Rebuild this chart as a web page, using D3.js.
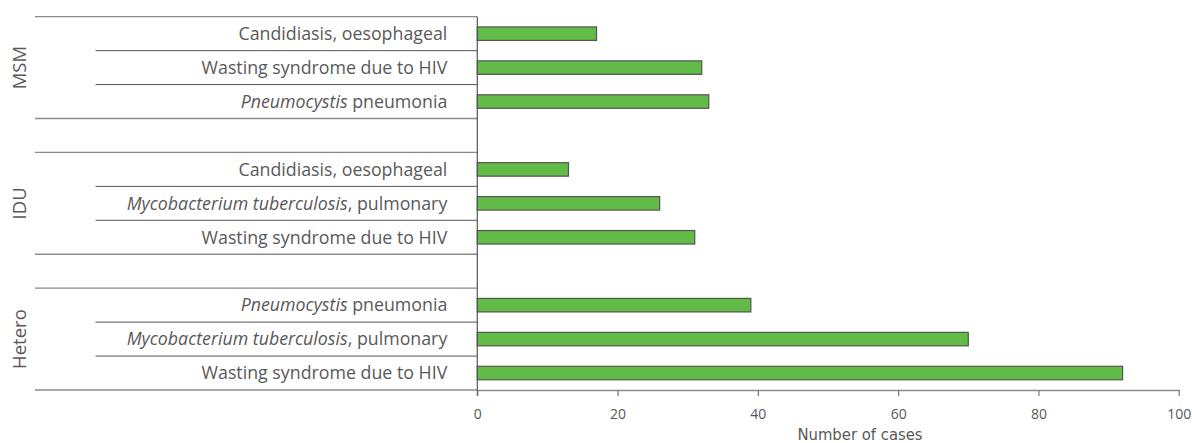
<!DOCTYPE html>
<html>
<head>
<meta charset="utf-8">
<script src="https://cdn.jsdelivr.net/npm/d3@7"></script>
<style>
  body { margin: 0; background: #fff; }
  svg { display: block; }
</style>
</head>
<body>
<svg id="chart" width="1192" height="443"></svg>
<script>
// ---- data ----
const groups = ["MSM", "IDU", "Hetero"];
const groupRows = [[0, 2], [4, 6], [8, 10]];           // row index range of each group
// labels: segments [text, italic]
const rowLabels = [
  [["Candidiasis, oesophageal", false]],
  [["Wasting syndrome due to HIV", false]],
  [["Pneumocystis", true], [" pneumonia", false]],
  null,
  [["Candidiasis, oesophageal", false]],
  [["Mycobacterium tuberculosis", true], [", pulmonary", false]],
  [["Wasting syndrome due to HIV", false]],
  null,
  [["Pneumocystis", true], [" pneumonia", false]],
  [["Mycobacterium tuberculosis", true], [", pulmonary", false]],
  [["Wasting syndrome due to HIV", false]]
];
const values = [17, 32, 33, null, 13, 26, 31, null, 39, 70, 92];
const xTicks = [0, 20, 40, 60, 80, 100];
const xTitle = "Number of cases";

// ---- layout ----
const svg = d3.select("#chart");
const x0 = 477.3, x1 = 1178.7, yTop = 16.7, yBot = 390;
const x = d3.scaleLinear().domain([0, 100]).range([x0, x1]);
const y = d3.scaleBand().domain(d3.range(rowLabels.length)).range([yTop, yBot]).padding(0);
const barH = 13.5;
const textColor = "#595959";
const font = "'Open Sans', 'Noto Sans', sans-serif";

// row separator lines
const boundaries = d3.range(rowLabels.length + 1);
const isGroupBoundary = i => i === 0 || i === rowLabels.length ||
  groupRows.some(g => i === g[0] || i === g[1] + 1);
svg.append("g").selectAll("line").data(boundaries).join("line")
  .attr("x1", i => isGroupBoundary(i) ? 35 : 95.5)
  .attr("x2", x0)
  .attr("y1", i => i < rowLabels.length ? y(i) : yBot)
  .attr("y2", i => i < rowLabels.length ? y(i) : yBot)
  .attr("stroke", i => isGroupBoundary(i) ? "#8a8a8a" : "#555")
  .attr("stroke-width", i => isGroupBoundary(i) ? 1.3 : 1);

// bars
const rows = values.map((v, i) => ({ v, i })).filter(d => d.v != null);
svg.append("g").selectAll("rect").data(rows).join("rect")
  .attr("x", x(0))
  .attr("y", d => y(d.i) + y.bandwidth() / 2 - barH / 2)
  .attr("width", d => x(d.v) - x(0))
  .attr("height", barH)
  .attr("fill", "#62bb46")
  .attr("stroke", "#555")
  .attr("stroke-width", 1.2);

// row labels
const lab = svg.append("g").selectAll("text")
  .data(rowLabels.map((l, i) => ({ l, i })).filter(d => d.l))
  .join("text")
  .attr("x", x0 - 30)
  .attr("y", d => y(d.i) + y.bandwidth() / 2)
  .attr("dy", "0.35em")
  .attr("text-anchor", "end")
  .attr("font-family", font)
  .attr("font-size", 17.8)
  .attr("fill", textColor);
lab.selectAll("tspan").data(d => d.l).join("tspan")
  .attr("font-style", s => s[1] ? "italic" : "normal")
  .text(s => s[0]);

// group labels
svg.append("g").selectAll("text").data(groups).join("text")
  .attr("transform", (g, k) => {
    const r = groupRows[k];
    const cy = (y(r[0]) + y(r[1]) + y.bandwidth()) / 2;
    return `translate(20,${cy}) rotate(-90)`;
  })
  .attr("text-anchor", "middle")
  .attr("dy", "0.35em")
  .attr("font-family", font)
  .attr("font-size", 18.5)
  .attr("fill", textColor)
  .text(d => d);

// y axis line
svg.append("line")
  .attr("x1", x0).attr("x2", x0)
  .attr("y1", yTop).attr("y2", yBot + 6)
  .attr("stroke", "#555").attr("stroke-width", 1.2);

// x axis
const xAxis = svg.append("g")
  .attr("transform", `translate(0,${yBot})`)
  .call(d3.axisBottom(x).tickValues(xTicks).tickSize(6).tickPadding(13).tickSizeOuter(0));
xAxis.select(".domain").attr("stroke", "#8a8a8a").attr("stroke-width", 1.3);
xAxis.selectAll(".tick line").attr("stroke", "#777").attr("stroke-width", 1.2);
xAxis.selectAll(".tick text")
  .attr("font-family", font)
  .attr("font-size", 14)
  .attr("fill", textColor);

svg.append("text")
  .attr("x", (x0 + x1) / 2 + 32)
  .attr("y", 440)
  .attr("text-anchor", "middle")
  .attr("font-family", "'Liberation Sans Narrow', 'DejaVu Sans Condensed', sans-serif")
  .attr("font-stretch", "condensed")
  .attr("font-size", 16.5)
  .attr("fill", textColor)
  .text(xTitle);
</script>
</body>
</html>
